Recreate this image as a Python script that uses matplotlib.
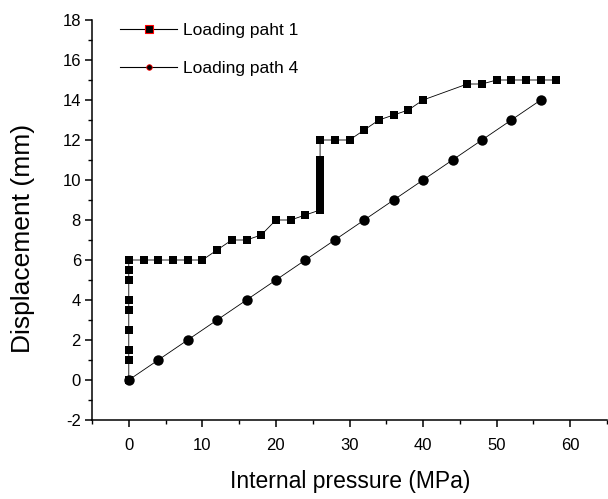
import matplotlib
matplotlib.use('Agg')
import matplotlib.pyplot as plt
from matplotlib.lines import Line2D
from matplotlib.ticker import MultipleLocator

plt.rcParams.update({
    'font.family': ['Liberation Sans', 'DejaVu Sans'],
    'axes.unicode_minus': False,
    'axes.linewidth': 1.1,
    'xtick.major.width': 1.1,
    'ytick.major.width': 1.1,
    'xtick.minor.width': 1.0,
    'ytick.minor.width': 1.0,
    'xtick.major.size': 5,
    'ytick.major.size': 5,
    'xtick.minor.size': 3,
    'ytick.minor.size': 3,
})

# Loading path 1 (squares)
path1_p = [0, 0, 0, 0, 0, 0, 0, 0, 0,
           2, 4, 6, 8, 10, 12, 14, 16, 18, 20, 22, 24,
           26, 26, 26, 26, 26, 26, 26, 26, 26, 26,
           28, 30, 32, 34, 36, 38, 40, 46, 48, 50, 52, 54, 56, 58]
path1_d = [0, 1, 1.5, 2.5, 3.5, 4, 5, 5.5, 6,
           6, 6, 6, 6, 6, 6.5, 7, 7, 7.25, 8, 8, 8.25,
           8.5, 8.8, 9.2, 9.5, 9.8, 10.2, 10.5, 10.8, 11, 12,
           12, 12, 12.5, 13, 13.25, 13.5, 14, 14.8, 14.8, 15, 15, 15, 15, 15]

# Loading path 4 (circles)
path4_p = [0, 4, 8, 12, 16, 20, 24, 28, 32, 36, 40, 44, 48, 52, 56]
path4_d = [0, 1, 2, 3, 4, 5, 6, 7, 8, 9, 10, 11, 12, 13, 14]

labels = ['Loading paht 1', 'Loading path 4']

fig = plt.figure(figsize=(6.08, 4.99), dpi=100)
ax = fig.add_axes([92 / 608, 79 / 499, 515 / 608, 400 / 499])

ax.plot(path1_p, path1_d, color='black', lw=0.6, marker='s', ms=6.3,
        mfc='black', mec='black', mew=0, zorder=2)
ax.plot(path4_p, path4_d, color='black', lw=0.6, marker='o', ms=7.5,
        mfc='black', mec='black', mew=0, zorder=3)

ax.set_xlim(-5, 65)
ax.set_ylim(-2, 18)
ax.xaxis.set_major_locator(MultipleLocator(10))
ax.xaxis.set_minor_locator(MultipleLocator(5))
ax.yaxis.set_major_locator(MultipleLocator(2))
ax.yaxis.set_minor_locator(MultipleLocator(1))
ax.tick_params(which='both', direction='out', labelsize=12)
ax.tick_params(axis='x', which='major', pad=8)
ax.tick_params(axis='y', which='major', pad=3)

ax.spines['top'].set_visible(False)
ax.spines['right'].set_visible(False)

ax.set_xlabel('Internal pressure (MPa)', fontsize=16.5)
ax.xaxis.set_label_coords(0.501, -0.125)
ax.set_ylabel('Displacement (mm)', fontsize=19)
ax.yaxis.set_label_coords(-0.11, 0.455)

handles = [
    Line2D([], [], color='black', lw=0.8, marker='s', ms=6, mfc='black',
           mec='red', mew=0.8),
    Line2D([], [], color='black', lw=0.8, marker='o', ms=4, mfc='black',
           mec='red', mew=0.6),
]
ax.legend(handles, labels, loc='upper left',
          bbox_to_anchor=(120 / 608, 1 - 23 / 499),
          bbox_transform=fig.transFigure, frameon=False, fontsize=12.5,
          borderpad=0, borderaxespad=0, handlelength=3.3,
          handletextpad=0.35, labelspacing=1.3)

fig.savefig('out.png', dpi=100)
